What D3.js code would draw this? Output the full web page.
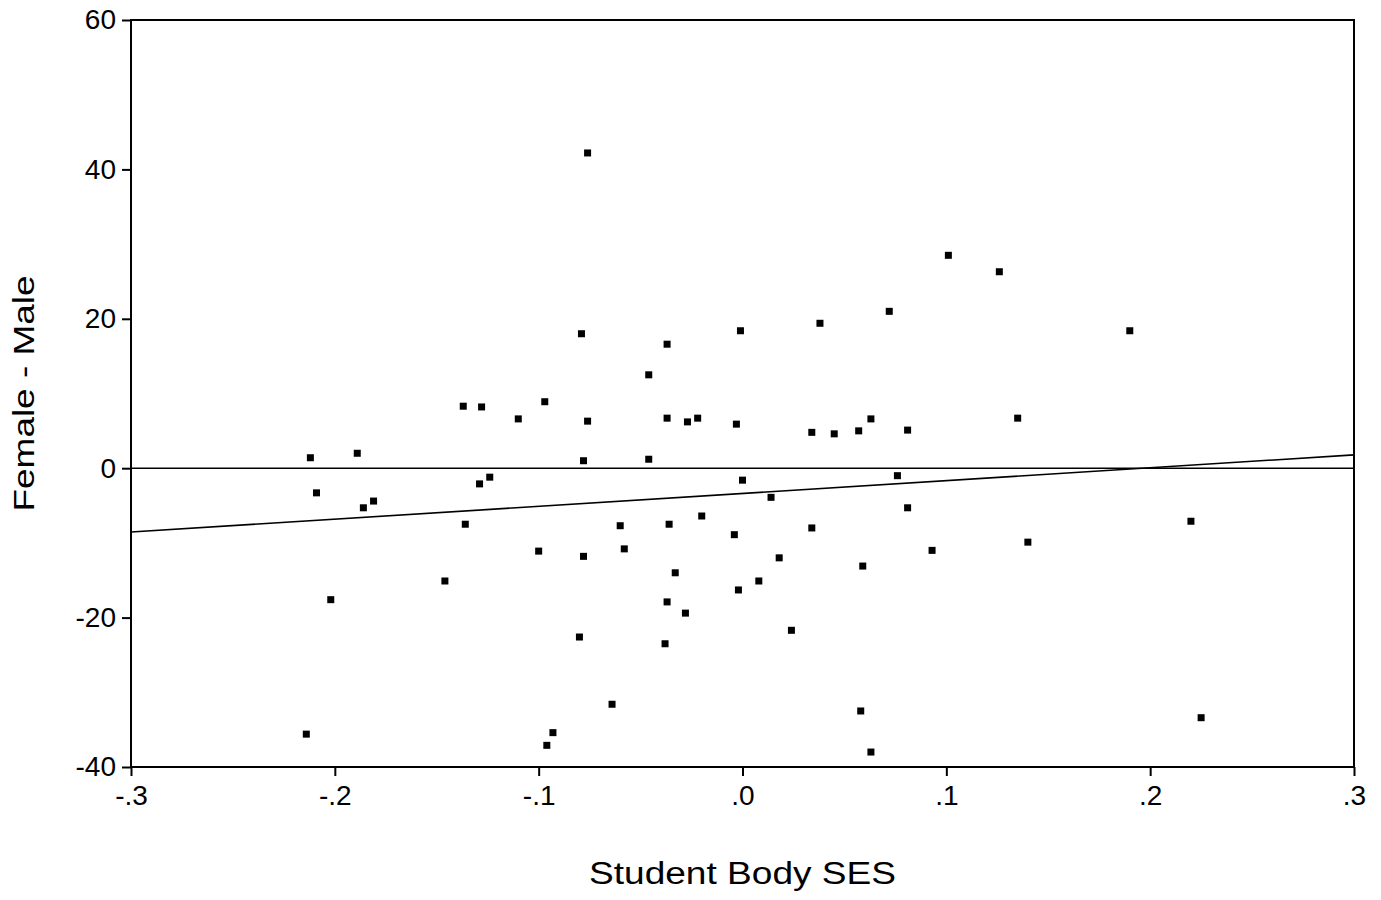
<!DOCTYPE html>
<html>
<head>
<meta charset="utf-8">
<script src="https://d3js.org/d3.v7.min.js"></script>
<style>
  body { margin: 0; background: #fff; }
  text { font-family: "Liberation Sans", Arial, sans-serif; fill: #000; }
</style>
</head>
<body>
<svg id="chart" width="1381" height="900"></svg>
<script>
// school level values
var ses = [
  -0.212, -0.209, -0.189, -0.186, -0.181, -0.202, -0.214, -0.146, -0.137, -0.128,
  -0.136, -0.129, -0.124, -0.110, -0.097, -0.100, -0.096, -0.093, -0.076, -0.079,
  -0.076, -0.078, -0.078, -0.080, -0.064, -0.060, -0.058, -0.046, -0.046, -0.037,
  -0.037, -0.036, -0.033, -0.037, -0.038, -0.028, -0.027, -0.022, -0.020, -0.001,
  -0.003, 0.000, -0.004, -0.002, 0.008, 0.014, 0.018, 0.024, 0.034, 0.034,
  0.038, 0.045, 0.057, 0.063, 0.059, 0.058, 0.063, 0.072, 0.076, 0.081,
  0.081, 0.093, 0.101, 0.126, 0.135, 0.140, 0.190, 0.220, 0.225
]
var gap = [
  1.4, -3.3, 2.0, -5.3, -4.4, -17.6, -35.6, -15.1, 8.3, 8.2,
  -7.5, -2.1, -1.2, 6.6, 8.9, -11.1, -37.1, -35.4, 42.2, 18.0,
  6.3, 1.0, -11.8, -22.6, -31.6, -7.7, -10.8, 12.5, 1.2, 16.6,
  6.7, -7.5, -14.0, -17.9, -23.5, -19.4, 6.2, 6.7, -6.4, 18.4,
  5.9, -1.6, -8.9, -16.3, -15.1, -3.9, -12.0, -21.7, 4.8, -8.0,
  19.4, 4.6, 5.0, 6.6, -13.1, -32.5, -38.0, 21.0, -1.0, 5.1,
  -5.3, -11.0, 28.5, 26.3, 6.7, -9.9, 18.4, -7.1, -33.4
]

var xTicks = [-0.3, -0.2, -0.1, 0, 0.1, 0.2, 0.3]
var xTickLabels = ["-.3", "-.2", "-.1", ".0", ".1", ".2", ".3"]
var yTicks = [60, 40, 20, 0, -20, -40]
var yTickLabels = ["60", "40", "20", "0", "-20", "-40"]

// fitted line as drawn (intercept at ses = 0, slope)
var fitIntercept = -3.38
var fitSlope = 17.2

var margin = {top: 20, left: 131}
var width = 1223
height = 747

var svg = d3.select("#chart")
var g = svg.append("g")
    .attr("transform", "translate(" + margin.left + "," + margin.top + ")");

var x = d3.scaleLinear().domain([-0.3, 0.3]).range([0, width])
var y = d3.scaleLinear().domain([-40, 60]).range([height, 0])

// frame
g.append("rect")
  .attr("width", width)
  .attr("height", height)
  .attr("fill", "none")
  .attr("stroke", "#000")
  .attr("stroke-width", 2)

// axes
var xAxis = g.append("g")
  .attr("transform", "translate(0," + height + ")")
  .call(d3.axisBottom(x).tickValues(xTicks).tickSize(9).tickPadding(8)
    .tickFormat(function(d, i) { return xTickLabels[i]; }))
var yAxis = g.append("g")
  .call(d3.axisLeft(y).tickValues(yTicks).tickSize(9).tickPadding(6)
    .tickFormat(function(d, i) { return yTickLabels[i]; }))

svg.selectAll(".domain").remove()
svg.selectAll(".tick line").attr("stroke", "#000").attr("stroke-width", 2)
xAxis.selectAll("text").style("font-size", "28px").attr("dy", "0.75em")
yAxis.selectAll("text").style("font-size", "28px")

// reference line at zero
g.append("line")
  .attr("x1", 0).attr("x2", width)
  .attr("y1", y(0)).attr("y2", y(0))
  .attr("stroke", "#000")
  .attr("stroke-width", 1.6)

// regression line
g.append("line")
  .attr("x1", x(-0.3)).attr("x2", x(0.3))
  .attr("y1", y(fitIntercept + fitSlope * -0.3))
  .attr("y2", y(fitIntercept + fitSlope * 0.3))
  .attr("stroke", "#000")
  .attr("stroke-width", 1.6)

// points
g.selectAll("rect.pt")
  .data(ses)
  .enter()
  .append("rect")
    .attr("class", "pt")
    .attr("x", function(d) { return x(d) - 3.5; })
    .attr("y", function(d, i) { return y(gap[i]) - 3.5; })
    .attr("width", 7)
    .attr("height", 7)
    .attr("fill", "#000")

// axis titles
svg.append("text")
  .attr("x", margin.left + width / 2)
  .attr("y", 884)
  .attr("text-anchor", "middle")
  .attr("textLength", 307)
  .attr("lengthAdjust", "spacingAndGlyphs")
  .style("font-size", "31px")
  .text("Student Body SES")

svg.append("text")
  .attr("transform", "translate(34," + (margin.top + height / 2) + ") rotate(-90)")
  .attr("text-anchor", "middle")
  .attr("textLength", 236)
  .attr("lengthAdjust", "spacingAndGlyphs")
  .style("font-size", "30px")
  .text("Female - Male")
</script>
</body>
</html>
